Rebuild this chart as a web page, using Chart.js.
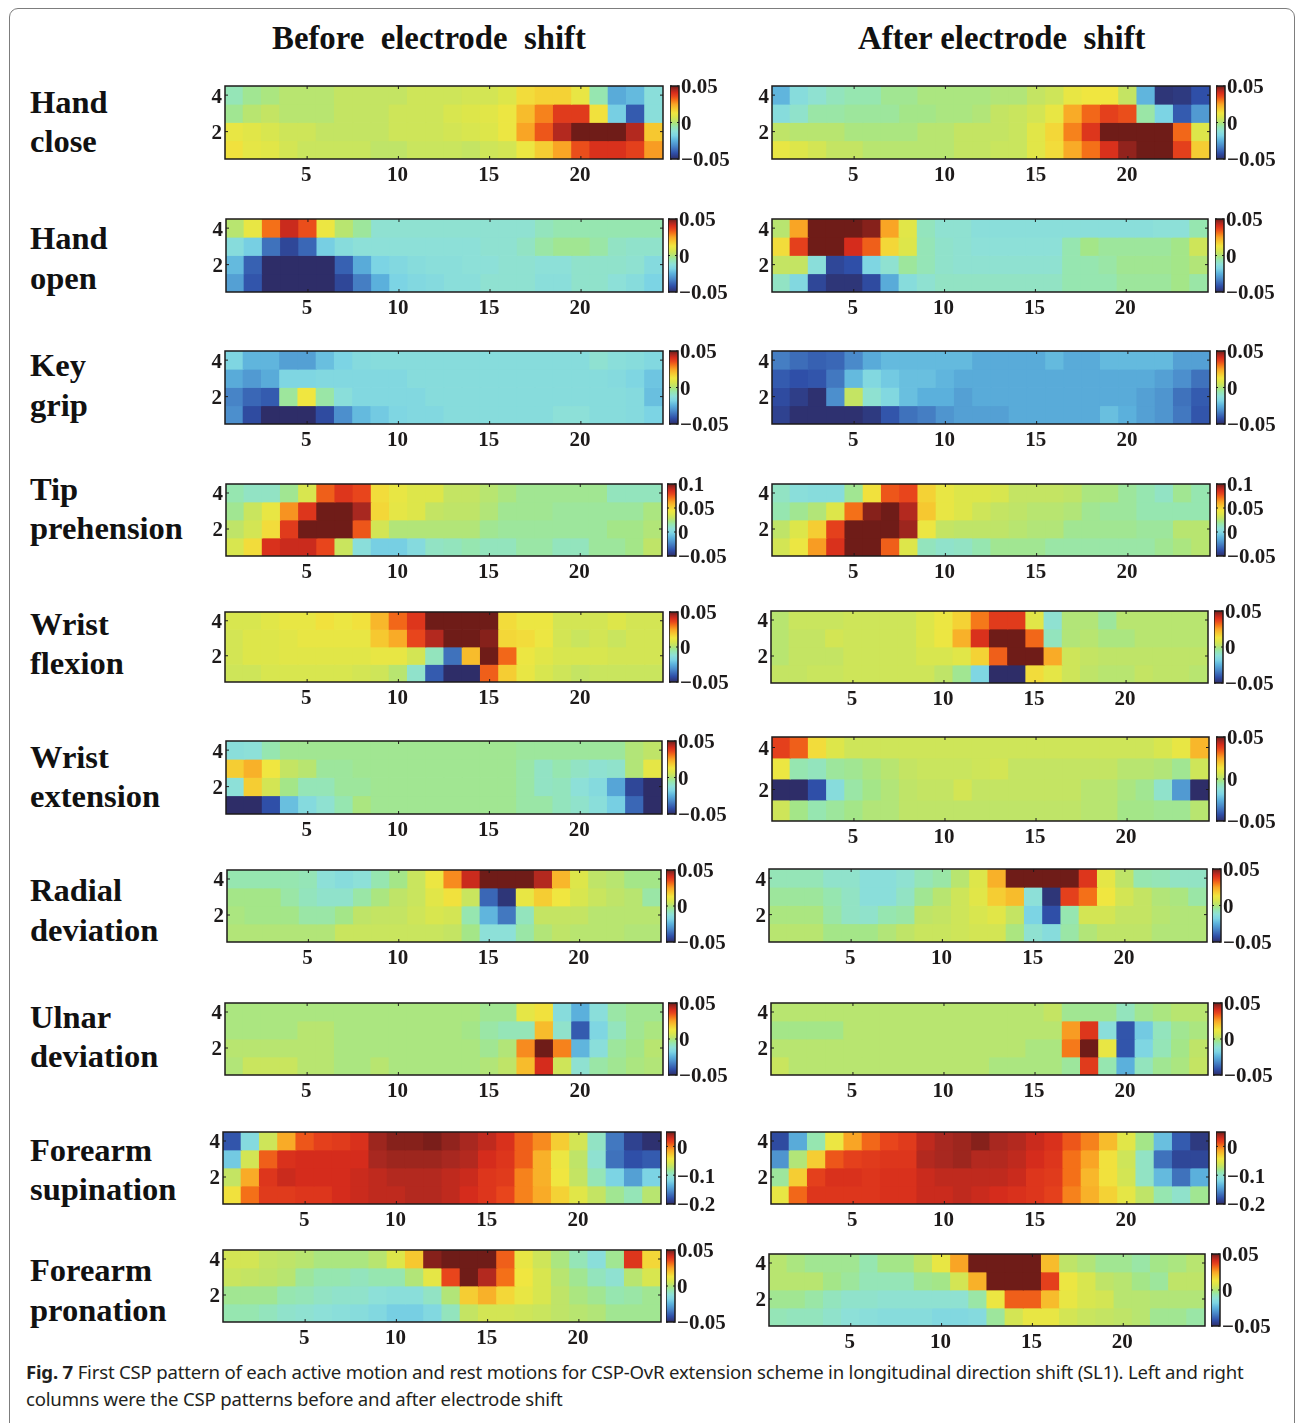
<!DOCTYPE html>
<html>
<head>
<meta charset="utf-8">
<title>Fig. 7</title>
<script src="https://cdn.jsdelivr.net/npm/chart.js@4"></script>
<style>
    html, body { margin: 0; padding: 0; background: #fff; }
    #page { position: relative; width: 1295px; height: 1423px; overflow: hidden; }
    #frame { position: absolute; left: 9px; top: 8px; width: 1284px; height: 1440px; border: 1.5px solid #7d7d7d; border-radius: 9px; }
    canvas { position: absolute; }
    .title, .motion { position: absolute; font-family: "Liberation Serif", serif; font-weight: bold; color: #111; white-space: pre; line-height: 40px; }
    .title { font-size: 32.8px; }
    .motion { font-size: 32.5px; left: 30px; }
    #caption { position: absolute; left: 26px; top: 1359px; width: 1240px; font-family: "Noto Sans", sans-serif; font-size: 18.6px; line-height: 26.5px; color: #231f20; letter-spacing: -0.2px; }
</style>
</head>
<body>
<div id="page">
    <div id="frame"></div>
    <div id="caption"><b>Fig. 7</b> First CSP pattern of each active motion and rest motions for CSP-OvR extension scheme in longitudinal direction shift (SL1). Left and right columns were the CSP patterns before and after electrode shift</div>
</div>

<script>
// ============================================================
// DATA
// rows run from electrode row 4 down to row 1, 24 columns each.
// values = position on the panel's own colourbar, -50 bottom, +50 top
// ============================================================
const xLabels = [1,2,3,4,5,6,7,8,9,10,11,12,13,14,15,16,17,18,19,20,21,22,23,24];
const xTickLabels = [5, 10, 15, 20];
const yTickValues = [2, 4];

const handCloseBefore = [
    [-7,-3,-1,1,1,1,3,3,3,3,5,5,5,6,6,8,15,17,17,11,-6,-26,-23,-13],
    [-3,1,3,1,1,1,3,3,3,5,5,5,7,8,9,12,21,29,38,38,14,-19,-40,-13],
    [11,9,7,5,5,3,3,3,3,5,5,5,6,7,8,12,25,34,44,50,50,50,44,19],
    [14,10,9,6,4,4,4,4,2,2,4,4,4,3,5,6,12,18,25,35,40,40,37,26]
];
const handCloseAfter = [
    [-24,-14,-11,-8,-6,-6,-3,-3,-1,-1,-1,-1,0,0,3,5,11,13,13,3,-24,-48,-47,-42],
    [-14,-10,-5,-5,-4,-4,-4,-2,-2,-1,-1,0,3,4,6,11,24,32,37,35,-5,-18,-40,-29],
    [2,1,1,1,-1,-1,-1,-1,1,1,3,3,3,4,9,16,29,39,50,50,50,50,32,8],
    [11,8,6,3,3,1,1,1,1,1,3,3,4,4,9,15,24,31,40,47,50,50,37,18]
];
const handOpenBefore = [
    [1,11,31,42,35,12,1,-4,-11,-11,-11,-11,-11,-11,-11,-11,-11,-8,-6,-6,-6,-6,-6,-6],
    [-14,-19,-36,-44,-38,-19,-14,-12,-12,-12,-12,-12,-12,-12,-11,-11,-9,-5,-3,-3,-5,-9,-10,-10],
    [-23,-39,-50,-50,-50,-50,-39,-26,-18,-16,-14,-13,-13,-12,-12,-11,-11,-12,-12,-10,-10,-10,-11,-15],
    [-28,-41,-50,-50,-50,-50,-44,-34,-25,-18,-16,-15,-13,-13,-11,-11,-11,-13,-13,-10,-10,-12,-14,-18]
];
const handOpenAfter = [
    [1,25,50,50,50,48,25,9,-8,-11,-11,-13,-13,-13,-13,-13,-13,-13,-13,-13,-13,-12,-12,-6],
    [15,37,50,50,41,33,16,8,-7,-10,-11,-12,-12,-12,-12,-12,-6,-2,-4,-4,-4,-4,-2,5],
    [3,3,-13,-44,-42,-17,-11,-4,-7,-10,-11,-11,-11,-11,-11,-11,-6,-6,-5,-3,-3,-3,-2,0],
    [-9,-16,-44,-48,-48,-43,-26,-14,-11,-9,-9,-9,-9,-9,-9,-9,-6,-6,-6,-4,-4,-4,-2,-5]
];
const keyGripBefore = [
    [-17,-24,-24,-28,-28,-22,-18,-15,-14,-14,-14,-14,-14,-14,-14,-14,-14,-14,-14,-14,-11,-13,-14,-16],
    [-26,-29,-26,-17,-17,-16,-16,-16,-16,-16,-14,-14,-14,-14,-14,-14,-14,-14,-14,-14,-14,-15,-17,-21],
    [-33,-38,-40,-4,13,-5,-13,-16,-16,-16,-16,-14,-14,-14,-14,-14,-14,-14,-14,-14,-14,-14,-15,-22],
    [-31,-43,-50,-50,-50,-43,-31,-23,-20,-17,-16,-16,-14,-14,-14,-14,-14,-14,-12,-12,-14,-14,-15,-18]
];
const keyGripAfter = [
    [-34,-37,-39,-38,-32,-26,-23,-23,-23,-23,-23,-26,-26,-26,-26,-23,-26,-26,-23,-23,-23,-23,-28,-28],
    [-40,-42,-41,-35,-23,-16,-20,-22,-22,-24,-26,-26,-26,-26,-26,-26,-26,-26,-26,-26,-26,-28,-31,-36],
    [-43,-46,-49,-31,3,-11,-16,-22,-25,-25,-28,-26,-26,-26,-26,-26,-26,-26,-26,-26,-28,-30,-36,-40],
    [-45,-49,-49,-49,-49,-47,-41,-36,-34,-30,-28,-28,-28,-26,-26,-26,-26,-26,-22,-25,-28,-30,-35,-41]
];
const tipBefore = [
    [-6,-9,-9,-3,7,33,39,36,15,11,8,8,3,3,1,-1,-3,-3,-3,-3,-3,-8,-8,-8],
    [-3,4,11,27,39,50,50,45,16,10,8,3,2,2,0,-3,-3,-3,-4,-4,-4,-4,-4,-1],
    [2,6,15,38,50,50,50,34,6,0,0,0,0,0,-3,-4,-4,-4,-4,-4,-4,-2,-2,0],
    [7,15,40,42,42,36,4,-13,-19,-19,-15,-9,-8,-6,-8,-8,-5,-5,-8,-8,-4,-4,-2,2]
];
const tipAfter = [
    [-9,-13,-14,-14,-3,14,34,36,17,11,8,8,7,3,3,3,2,-1,-1,-4,-6,-9,-3,-6],
    [-6,-3,0,8,31,48,50,44,19,11,8,5,3,2,1,1,0,-3,-4,-4,-6,-6,-6,-6],
    [2,8,18,37,50,50,50,46,12,3,2,2,2,1,0,0,-3,-3,-3,-3,-4,-4,1,1],
    [6,12,26,40,50,50,33,8,-8,-10,-9,-6,-3,-3,-3,-5,-5,-5,-5,-5,-5,-3,-1,1]
];
const flexionBefore = [
    [7,7,9,11,11,14,12,14,22,32,39,50,50,50,50,15,12,12,6,6,6,8,6,6],
    [6,8,8,9,11,11,11,11,19,24,36,44,50,50,48,16,15,12,6,4,6,4,6,6],
    [6,8,8,9,9,9,9,9,11,11,6,-8,-36,21,50,32,12,9,7,7,7,6,6,6],
    [5,5,7,7,7,7,7,6,5,1,-10,-40,-50,-50,33,18,11,7,5,3,4,4,4,4]
];
const flexionAfter = [
    [1,4,4,4,5,5,5,5,8,12,17,30,38,38,9,-11,0,0,-4,1,1,1,1,1],
    [1,3,3,6,5,5,5,5,8,12,23,40,50,50,32,-8,0,1,-1,-1,1,1,1,1],
    [1,3,3,3,5,5,5,5,7,7,9,17,33,50,50,24,5,3,2,2,2,2,2,2],
    [3,3,4,4,5,5,5,5,5,2,-3,-17,-50,-50,15,10,5,2,1,1,3,2,2,1]
];
const extensionBefore = [
    [-13,-12,-6,-3,-3,-3,-3,-3,-3,-3,-3,-3,-3,-3,-3,-3,-4,-4,-4,-4,-4,-4,0,2],
    [18,23,13,3,1,-4,-4,-3,-3,-3,-3,-3,-3,-3,-3,-3,-5,-9,-6,-9,-11,-10,0,10],
    [-12,18,6,-2,-7,-7,-4,-4,-3,-3,-3,-3,-3,-3,-3,-3,-5,-9,-8,-12,-15,-27,-44,-50],
    [-50,-50,-42,-22,-15,-11,-6,-1,-3,-3,-3,-3,-3,-3,-3,-3,-5,-5,-8,-10,-13,-19,-38,-50]
];
const extensionAfter = [
    [37,33,15,8,5,5,5,5,5,5,5,5,5,5,5,5,5,5,5,5,5,7,11,22],
    [12,-6,-8,-4,-3,-1,1,3,4,4,4,5,6,3,3,3,3,3,3,1,1,0,-3,5],
    [-50,-50,-42,-14,-5,-2,0,2,3,3,6,3,3,3,3,3,3,1,1,-1,-3,-10,-29,-50],
    [5,-2,-6,-4,-2,0,0,2,2,2,2,2,2,2,2,2,2,1,1,-2,-2,-3,-3,1]
];
const radialBefore = [
    [-6,-6,-6,-6,-7,-12,-14,-12,-6,-2,4,12,28,42,50,50,50,44,22,8,2,1,-2,-2],
    [-2,-2,-2,-5,-8,-10,-10,-5,-1,2,4,9,14,4,-38,-48,11,18,13,7,4,2,1,-5],
    [-1,-2,-2,-2,-5,-5,-2,2,3,3,5,7,6,-6,-24,-35,-8,3,3,3,1,1,1,1],
    [0,0,0,0,0,0,4,4,4,4,4,4,3,-2,-12,-12,-5,0,2,1,1,1,0,0]
];
const radialAfter = [
    [-7,-7,-7,-10,-10,-13,-13,-11,-7,-5,1,8,23,50,50,50,50,39,10,2,-6,-7,-9,-9],
    [-4,-4,-4,-6,-9,-13,-13,-9,-3,1,5,9,18,21,-12,-48,37,31,13,6,3,0,-1,-5],
    [-1,-1,-1,-5,-9,-10,-6,-5,2,3,5,7,9,3,-18,-42,-6,6,6,3,3,1,0,0],
    [1,1,1,-2,-2,-2,0,2,4,4,5,6,6,-1,-11,-14,-5,0,2,2,2,0,0,0]
];
const ulnarBefore = [
    [-1,-1,-1,-1,-1,-1,-1,-1,-1,-1,-1,-1,-1,-1,-3,-3,10,14,-14,-25,-13,-5,-3,-3],
    [-1,-1,-1,-1,1,1,-1,-1,-1,-1,-1,-1,-1,-2,-5,-7,-7,21,-10,-40,-17,-8,-3,-1],
    [1,1,1,1,1,1,-1,-1,-1,-1,-1,-1,-1,-1,-3,0,28,50,29,-24,-13,-4,-2,1],
    [0,4,4,4,1,1,-1,-1,1,-1,-1,-1,-1,-1,0,2,21,41,5,-11,-5,-3,-1,0]
];
const ulnarAfter = [
    [1,1,1,1,1,1,1,1,1,1,1,1,1,1,1,3,-3,-3,-3,-8,-3,-1,1,1],
    [-2,-2,-2,-2,1,1,1,1,1,1,1,1,1,1,1,1,26,39,-13,-41,-20,-8,-3,-1],
    [1,1,1,1,1,1,1,1,1,1,1,1,1,1,-1,-1,30,50,11,-41,-17,-7,-2,2],
    [4,1,1,1,1,1,1,1,1,1,1,1,-1,-1,-1,-1,-4,38,-6,-25,-8,-3,-1,3]
];
const supinationBefore = [
    [-41,-15,5,24,34,37,38,40,46,48,48,49,47,45,43,40,33,28,18,6,-9,-35,-45,-49],
    [-20,6,33,40,41,41,41,41,45,46,46,46,45,44,41,39,33,23,12,2,-11,-36,-42,-40],
    [3,24,39,42,41,41,41,42,43,44,44,44,43,42,39,38,29,23,13,3,-7,-18,-28,-18],
    [14,31,38,38,39,39,41,42,43,43,44,44,43,41,39,36,29,24,17,9,3,-3,-7,1]
];
const supinationAfter = [
    [-43,-26,-6,12,25,32,36,38,43,45,46,48,45,44,42,40,34,29,21,9,-2,-22,-40,-47],
    [-30,0,18,34,37,38,39,39,44,45,46,44,44,43,41,39,31,25,14,5,-9,-36,-44,-44],
    [-4,18,37,40,40,39,40,40,42,43,43,43,43,42,39,38,31,22,14,6,-9,-23,-36,-25],
    [11,32,39,39,39,39,40,40,42,42,43,42,41,40,39,37,29,23,17,10,2,-6,-10,-3]
];
const pronationBefore = [
    [6,6,3,2,1,-1,-1,-1,1,8,19,48,50,50,50,33,11,5,-1,-7,-13,-3,39,16],
    [4,3,2,1,-4,-6,-6,-8,-6,-6,0,10,36,50,44,31,13,7,1,-3,-8,-11,1,7],
    [-3,-3,-3,-6,-7,-9,-10,-10,-12,-13,-13,-9,0,18,23,16,11,7,2,-1,-3,-6,-5,-3],
    [-6,-6,-8,-10,-11,-12,-13,-14,-16,-19,-19,-16,-8,3,6,6,5,4,2,1,0,-3,-3,-3]
];
const pronationAfter = [
    [1,-1,-3,-3,-3,-6,-2,-2,2,11,25,50,50,50,50,21,2,0,-3,-3,-5,-2,-1,1],
    [1,1,1,-2,-4,-7,-7,-7,-3,-2,6,23,50,50,50,37,12,7,2,1,-2,-4,2,2],
    [-3,-3,-5,-8,-10,-10,-11,-11,-11,-11,-11,-5,12,33,33,21,11,7,6,1,1,0,0,0],
    [-7,-8,-8,-10,-12,-13,-14,-14,-14,-16,-16,-15,-4,6,11,11,6,4,3,2,1,-3,-3,-5]
];

// colourbar ranges and their tick labels
const rangeNarrow = [-0.05, 0.05];
const ticksNarrow = [-0.05, 0, 0.05];
const rangeTip = [-0.05, 0.1];
const ticksTip = [-0.05, 0, 0.05, 0.1];
const rangeSupination = [-0.2, 0.05];
const ticksSupination = [-0.2, -0.1, 0];

// colour map: lightened jet as printed in the figure
const cmapLevels = [-50, -42, -32, -25, -18, -12, -6, -2, 2, 8, 13, 19, 25, 31, 36, 41, 45, 50];
const cmapColors = ['#2e2d68', '#2f4fa8', '#4a8aca', '#5bb0dc', '#7cd4e4', '#8de0d8', '#96e6b0', '#a4e688', '#bfe468', '#dde64a', '#f0e640', '#f6c830', '#f9a525', '#f47018', '#e8451c', '#d52c1c', '#a82820', '#6f1c18'];

// ============================================================
// LAYOUT
// [left, right, top, bottom, colourbar left, colourbar right]
// ============================================================
const panels = [
    { rowName: ['Hand', 'close'], nameY: [102, 141], range: rangeNarrow, ticks: ticksNarrow,
      before: handCloseBefore, after: handCloseAfter,
      boxL: [225, 663, 86, 159, 670, 679], boxR: [772, 1210, 86, 159, 1216, 1225] },
    { rowName: ['Hand', 'open'], nameY: [238, 278], range: rangeNarrow, ticks: ticksNarrow,
      before: handOpenBefore, after: handOpenAfter,
      boxL: [226, 663, 219, 292, 668, 677], boxR: [772, 1208, 219, 292, 1215, 1224] },
    { rowName: ['Key', 'grip'], nameY: [365, 405], range: rangeNarrow, ticks: ticksNarrow,
      before: keyGripBefore, after: keyGripAfter,
      boxL: [225, 663, 351, 424, 669, 678], boxR: [772, 1210, 351, 424, 1216, 1225] },
    { rowName: ['Tip', 'prehension'], nameY: [489, 528], range: rangeTip, ticks: ticksTip,
      before: tipBefore, after: tipAfter,
      boxL: [226, 662, 484, 556, 667, 676], boxR: [772, 1210, 484, 556, 1216, 1225] },
    { rowName: ['Wrist', 'flexion'], nameY: [624, 663], range: rangeNarrow, ticks: ticksNarrow,
      before: flexionBefore, after: flexionAfter,
      boxL: [225, 663, 612, 682, 669, 678], boxR: [771, 1208, 611, 683, 1214, 1223] },
    { rowName: ['Wrist', 'extension'], nameY: [757, 796], range: rangeNarrow, ticks: ticksNarrow,
      before: extensionBefore, after: extensionAfter,
      boxL: [226, 662, 741, 814, 667, 676], boxR: [772, 1209, 737, 821, 1216, 1225] },
    { rowName: ['Radial', 'deviation'], nameY: [890, 930], range: rangeNarrow, ticks: ticksNarrow,
      before: radialBefore, after: radialAfter,
      boxL: [227, 661, 870, 942, 666, 675], boxR: [769, 1207, 869, 942, 1212, 1221] },
    { rowName: ['Ulnar', 'deviation'], nameY: [1017, 1056], range: rangeNarrow, ticks: ticksNarrow,
      before: ulnarBefore, after: ulnarAfter,
      boxL: [225, 663, 1003, 1075, 668, 677], boxR: [771, 1208, 1003, 1075, 1213, 1222] },
    { rowName: ['Forearm', 'supination'], nameY: [1150, 1189], range: rangeSupination, ticks: ticksSupination,
      before: supinationBefore, after: supinationAfter,
      boxL: [223, 661, 1132, 1204, 666, 675], boxR: [771, 1209, 1132, 1204, 1216, 1225] },
    { rowName: ['Forearm', 'pronation'], nameY: [1270, 1310], range: rangeNarrow, ticks: ticksNarrow,
      before: pronationBefore, after: pronationAfter,
      boxL: [223, 661, 1250, 1322, 666, 675], boxR: [769, 1205, 1254, 1326, 1211, 1220] }
];

const page = document.getElementById('page');
const DARK = '#1d1a1a';
const tickFont = { family: '"Liberation Serif", serif', size: 21, weight: 'bold', lineHeight: 1.2 };
const PAD = 16, AXIS_W = 30, AXIS_H = 36, CBAR_LABEL_W = 70;

function hexToRgb(h) {
    return [parseInt(h.slice(1, 3), 16), parseInt(h.slice(3, 5), 16), parseInt(h.slice(5, 7), 16)];
}

function levelColor(v) {
    let i = 0;
    while (i < cmapLevels.length - 2 && v > cmapLevels[i + 1]) i++;
    const t = Math.min(1, Math.max(0, (v - cmapLevels[i]) / (cmapLevels[i + 1] - cmapLevels[i])));
    const a = hexToRgb(cmapColors[i]), b = hexToRgb(cmapColors[i + 1]);
    return `rgb(${a.map((c, k) => Math.round(c + (b[k] - c) * t)).join(',')})`;
}

function addCanvas(x, y, w, h) {
    const c = document.createElement('canvas');
    c.width = w; c.height = h;
    c.style.left = x + 'px'; c.style.top = y + 'px';
    c.style.width = w + 'px'; c.style.height = h + 'px';
    page.appendChild(c);
    return c;
}

// MATLAB style box with inward ticks
const boxTicks = {
    id: 'boxTicks',
    afterDraw(chart, args, opts) {
        const { ctx, chartArea: a, scales } = chart;
        ctx.save();
        ctx.strokeStyle = DARK;
        ctx.lineWidth = 1.5;
        ctx.strokeRect(a.left, a.top, a.right - a.left, a.bottom - a.top);
        ctx.lineWidth = 1;
        ctx.beginPath();
        (opts.xValues || []).forEach(v => {
            const px = scales.x.getPixelForValue(v);
            ctx.moveTo(px, a.top); ctx.lineTo(px, a.top + 3);
            ctx.moveTo(px, a.bottom); ctx.lineTo(px, a.bottom - 3);
        });
        (opts.yValues || []).forEach(v => {
            const py = scales.y.getPixelForValue(v);
            ctx.moveTo(a.left, py); ctx.lineTo(a.left + opts.len, py);
            ctx.moveTo(a.right, py); ctx.lineTo(a.right - opts.len, py);
        });
        ctx.stroke();
        ctx.restore();
    }
};

function drawHeatmap(rows, box) {
    const [x0, x1, y0, y1] = box;
    const canvas = addCanvas(x0 - AXIS_W, y0 - PAD, x1 - x0 + AXIS_W + PAD, y1 - y0 + PAD + AXIS_H);
    new Chart(canvas.getContext('2d'), {
        type: 'bar',
        data: {
            labels: xLabels,
            // slightly oversized cells so no white seams show between bars
            datasets: rows.map((vals, r) => ({
                data: vals.map(() => [4 - r - 0.52, 4 - r + 0.52]),
                backgroundColor: vals.map(levelColor),
                borderWidth: 0,
                barPercentage: 1.06,
                categoryPercentage: 1
            }))
        },
        options: {
            responsive: false,
            animation: false,
            devicePixelRatio: 1,
            layout: { padding: { top: PAD, right: PAD, left: 0, bottom: 0 } },
            plugins: {
                legend: { display: false },
                tooltip: { enabled: false },
                boxTicks: { xValues: xTickLabels.map(v => v - 1), yValues: yTickValues, len: 3 }
            },
            scales: {
                x: {
                    stacked: true,
                    grid: { display: false, drawTicks: false },
                    border: { display: false },
                    afterFit: s => { s.height = AXIS_H; },
                    ticks: {
                        autoSkip: false, maxRotation: 0, minRotation: 0, padding: 4, labelOffset: -1,
                        color: DARK, font: tickFont,
                        callback: (val, i) => xTickLabels.includes(xLabels[i]) ? String(xLabels[i]) : ''
                    }
                },
                y: {
                    min: 0.5, max: 4.5,
                    grid: { display: false, drawTicks: false },
                    border: { display: false },
                    afterFit: s => { s.width = AXIS_W; },
                    afterBuildTicks: s => { s.ticks = yTickValues.map(v => ({ value: v })); },
                    ticks: { padding: 3, labelOffset: 2, color: DARK, font: tickFont, callback: v => String(v) }
                }
            }
        },
        plugins: [boxTicks]
    });
}

function formatTick(v) {
    return v < 0 ? '\u2212' + String(-v) : String(v);
}

function drawColorbar(range, ticks, box) {
    const [, , y0, y1, cx0, cx1] = box;
    const canvas = addCanvas(cx0, y0 - PAD, cx1 - cx0 + CBAR_LABEL_W, y1 - y0 + 2 * PAD);
    new Chart(canvas.getContext('2d'), {
        type: 'bar',
        data: {
            labels: ['cbar'],
            datasets: [{
                data: [range],
                borderWidth: 0,
                barPercentage: 1,
                categoryPercentage: 1,
                backgroundColor: ctx => {
                    const a = ctx.chart.chartArea;
                    if (!a) return '#000';
                    const g = ctx.chart.ctx.createLinearGradient(0, a.bottom, 0, a.top);
                    cmapLevels.forEach((l, i) => g.addColorStop((l + 50) / 100, cmapColors[i]));
                    return g;
                }
            }]
        },
        options: {
            responsive: false,
            animation: false,
            devicePixelRatio: 1,
            layout: { padding: { top: PAD, bottom: PAD, left: 0, right: 0 } },
            plugins: {
                legend: { display: false },
                tooltip: { enabled: false },
                boxTicks: { yValues: ticks, len: 2 }
            },
            scales: {
                x: { display: false },
                y: {
                    position: 'right',
                    min: range[0], max: range[1],
                    grid: { display: false, drawTicks: false },
                    border: { display: false },
                    afterFit: s => { s.width = CBAR_LABEL_W; },
                    afterBuildTicks: s => { s.ticks = ticks.map(v => ({ value: v })); },
                    ticks: { autoSkip: false, padding: 2, labelOffset: 2, color: DARK, font: tickFont, callback: formatTick }
                }
            }
        },
        plugins: [boxTicks]
    });
}

function addText(cls, text, x, yCenter) {
    const d = document.createElement('div');
    d.className = cls;
    d.textContent = text;
    if (x !== null) d.style.left = x + 'px';
    d.style.top = (yCenter - 20) + 'px';
    page.appendChild(d);
}

addText('title', 'Before  electrode  shift', 272, 38);
addText('title', 'After electrode  shift', 858, 38);

panels.forEach(p => {
    p.rowName.forEach((t, i) => addText('motion', t, null, p.nameY[i]));
    drawHeatmap(p.before, p.boxL);
    drawHeatmap(p.after, p.boxR);
    drawColorbar(p.range, p.ticks, p.boxL);
    drawColorbar(p.range, p.ticks, p.boxR);
});
</script>
</body>
</html>
